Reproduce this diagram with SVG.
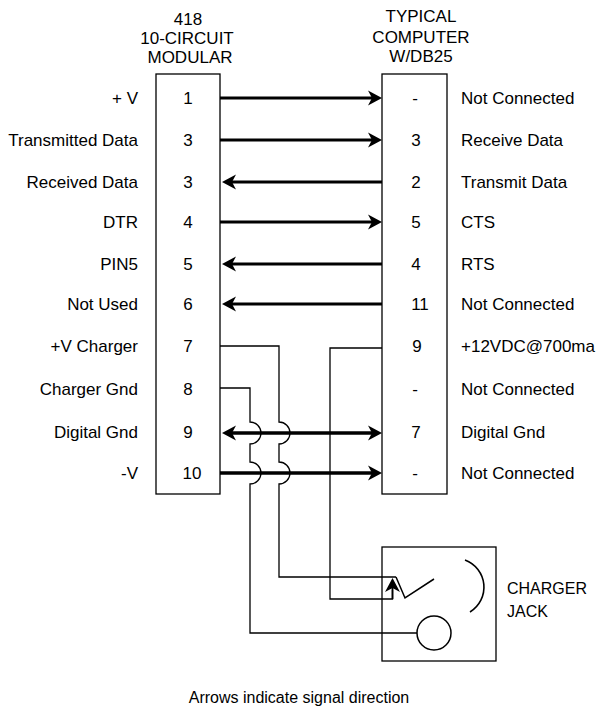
<svg xmlns="http://www.w3.org/2000/svg" width="598" height="710" viewBox="0 0 598 710">
<style>
text{font-family:"Liberation Sans",Arial,sans-serif;font-size:17px;fill:#000}
.l{text-anchor:end}
.c{text-anchor:middle}
.box{fill:#fff;stroke:#000;stroke-width:1.3}
.sig{stroke:#000;stroke-width:3;fill:none}
.sigb{stroke:#000;stroke-width:3.6;fill:none}
.w{stroke:#000;stroke-width:1.3;fill:none}
</style>
<defs>
<marker id="ah" markerUnits="userSpaceOnUse" markerWidth="18" markerHeight="18" viewBox="-16 -9 18 18" refX="-10" refY="0" orient="auto-start-reverse">
<path d="M0,0 L-14,-7.5 L-10,0 L-14,7.5 Z" fill="#000"/>
</marker>
</defs>

<g id="header-left">
<text class="c" x="188" y="25">418</text>
<text class="c" x="187" y="44">10-CIRCUIT</text>
<text class="c" x="190" y="63">MODULAR</text>
</g>
<g id="header-right">
<text class="c" x="421" y="22">TYPICAL</text>
<text class="c" x="421" y="43">COMPUTER</text>
<text class="c" x="421" y="62">W/DB25</text>
</g>

<g id="modular">
<rect class="box" x="156" y="74" width="64" height="420"/>
<text class="c" x="188" y="104">1</text>
<text class="c" x="188" y="146">3</text>
<text class="c" x="188" y="188">3</text>
<text class="c" x="188" y="228">4</text>
<text class="c" x="188" y="270">5</text>
<text class="c" x="188" y="310">6</text>
<text class="c" x="188" y="352">7</text>
<text class="c" x="188" y="395">8</text>
<text class="c" x="188" y="438">9</text>
<text class="c" x="192" y="479">10</text>
</g>
<g id="modular-labels">
<text class="l" x="138" y="104">+ V</text>
<text class="l" x="138" y="146">Transmitted Data</text>
<text class="l" x="138" y="188">Received Data</text>
<text class="l" x="138" y="228">DTR</text>
<text class="l" x="138" y="270">PIN5</text>
<text class="l" x="138" y="310">Not Used</text>
<text class="l" x="138" y="352">+V Charger</text>
<text class="l" x="138" y="395">Charger Gnd</text>
<text class="l" x="138" y="438">Digital Gnd</text>
<text class="l" x="138" y="479">-V</text>
</g>

<g id="db25">
<rect class="box" x="382" y="74" width="65" height="420"/>
<text class="c" x="415" y="104">-</text>
<text class="c" x="416" y="146">3</text>
<text class="c" x="416" y="188">2</text>
<text class="c" x="416" y="228">5</text>
<text class="c" x="416" y="270">4</text>
<text class="c" x="420" y="310">11</text>
<text class="c" x="417" y="352">9</text>
<text class="c" x="415" y="395">-</text>
<text class="c" x="416" y="438">7</text>
<text class="c" x="415" y="479">-</text>
</g>
<g id="db25-labels">
<text x="461" y="104">Not Connected</text>
<text x="461" y="146">Receive Data</text>
<text x="461" y="188">Transmit Data</text>
<text x="461" y="228">CTS</text>
<text x="461" y="270">RTS</text>
<text x="461" y="310">Not Connected</text>
<text x="461" y="352">+12VDC@700ma</text>
<text x="461" y="395">Not Connected</text>
<text x="461" y="438">Digital Gnd</text>
<text x="461" y="479">Not Connected</text>
</g>

<g id="charger-jack">
<rect class="box" x="382" y="547" width="114" height="114"/>
<path d="M465,560 A29,29 0 0 1 470,612" fill="none" stroke="#000" stroke-width="1.6"/>
<circle cx="434" cy="633" r="17" fill="none" stroke="#000" stroke-width="1.5"/>
<path d="M396,577 L405,598 L434,579" fill="none" stroke="#000" stroke-width="1.5"/>
<text x="507" y="594" style="font-size:16px">CHARGER</text>
<text x="507" y="617" style="font-size:16px">JACK</text>
</g>

<g id="connectors">
<line class="sig" x1="220" y1="98" x2="372" y2="98" marker-end="url(#ah)"/>
<line class="sig" x1="220" y1="140" x2="372" y2="140" marker-end="url(#ah)"/>
<line class="sig" x1="382" y1="182" x2="232" y2="182" marker-end="url(#ah)"/>
<line class="sig" x1="220" y1="222" x2="372" y2="222" marker-end="url(#ah)"/>
<line class="sig" x1="382" y1="264" x2="232" y2="264" marker-end="url(#ah)"/>
<line class="sig" x1="382" y1="304" x2="232" y2="304" marker-end="url(#ah)"/>
<line class="sigb" x1="232" y1="433" x2="372" y2="433" marker-start="url(#ah)" marker-end="url(#ah)"/>
<line class="sigb" x1="220" y1="473" x2="372" y2="473" marker-end="url(#ah)"/>
<path class="w" d="M220,346 H279 V422 A11,11 0 0 1 279,444 V462 A11,11 0 0 1 279,484 V577 H396"/>
<path class="w" d="M220,388 H250 V422 A11,11 0 0 1 250,444 V462 A11,11 0 0 1 250,484 V633 H417"/>
<path class="w" d="M382,348 H330 V599 H392.5 V590"/>
<line x1="392.5" y1="599" x2="392.5" y2="588" stroke="#000" stroke-width="1.8" marker-end="url(#ah)"/>
</g>

<text class="c" x="299" y="703" style="font-size:16px">Arrows indicate signal direction</text>
</svg>
